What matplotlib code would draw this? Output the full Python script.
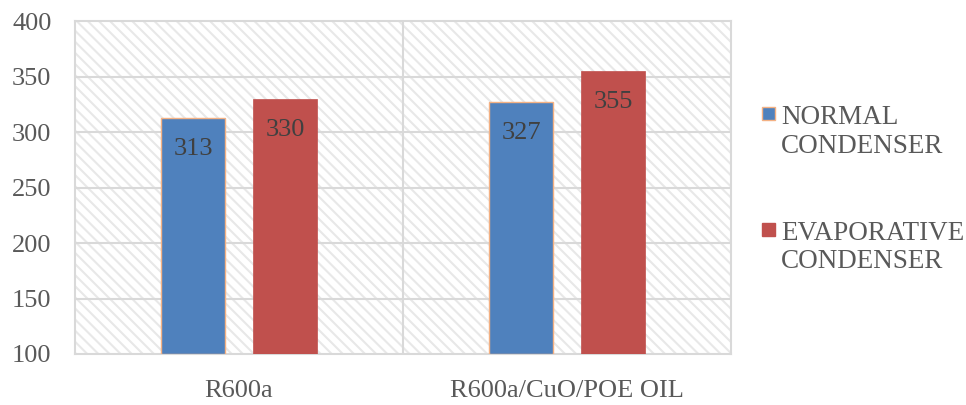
import numpy as np
import matplotlib
matplotlib.use('Agg')
import matplotlib.pyplot as plt

categories = ['R600a', 'R600a/CuO/POE OIL']
normal = [313, 327]
evaporative = [330, 355]
series_names = [['NORMAL', 'CONDENSER'], ['EVAPORATIVE', 'CONDENSER']]
yticks = [100, 150, 200, 250, 300, 350, 400]

plt.rcParams['font.family'] = ['Liberation Serif', 'DejaVu Serif']
plt.rcParams['hatch.linewidth'] = 1.5
plt.rcParams['hatch.color'] = '#e8e8e8'

blue = '#4f81bd'
red = '#c0504d'
text_col = '#595959'
grid_col = '#d9d9d9'
W, H = 966, 405

fig = plt.figure(figsize=(9.66, 4.05), dpi=100)
ax = fig.add_axes([75 / W, 1 - 354 / H, 656 / W, 333 / H])

# hatched background
ax.patch.set_facecolor('white')
ax.add_patch(plt.Rectangle((0, 0), 1, 1, transform=ax.transAxes, facecolor='white',
                           edgecolor='#e8e8e8', hatch='\\\\\\', lw=0, zorder=0))

x = np.arange(len(categories))
w = 0.195
off = 0.14
b1 = ax.bar(x - off, [v - 100 for v in normal], w, bottom=100, color=blue,
            edgecolor='#f4b183', linewidth=1, zorder=3)
b2 = ax.bar(x + off, [v - 100 for v in evaporative], w, bottom=100, color=red,
            edgecolor=red, linewidth=0.5, zorder=3)

for bars, vals in ((b1, normal), (b2, evaporative)):
    for b, v in zip(bars, vals):
        ax.text(b.get_x() + b.get_width() / 2, v - 33.5, str(v), ha='center', va='baseline',
                fontsize=19, color='#404040', zorder=4)

ax.set_xlim(-0.5, 1.5)
ax.set_ylim(100, 400)
ax.set_yticks(yticks)
ax.set_xticks(x)
ax.set_xticklabels(categories)
ax.tick_params(axis='both', length=0, labelsize=19, colors=text_col)
ax.tick_params(axis='x', pad=18.5)
ax.tick_params(axis='y', pad=17)

for y in yticks[1:-1]:
    ax.axhline(y, color=grid_col, lw=1.5, zorder=1)
ax.axvline(0.5, color=grid_col, lw=1.5, zorder=1)
for s in ax.spines.values():
    s.set_color(grid_col)
    s.set_linewidth(1.5)

# legend drawn by hand so the marker sits on the first text line
legend_items = [(blue, '#f4b183', 107, [124, 153]), (red, red, 223, [240, 268])]
for (fc, ec, ytop, baselines), lines in zip(legend_items, series_names):
    fig.patches.append(plt.Rectangle((762 / W, 1 - (ytop + 13) / H), 13 / W, 13 / H,
                                     transform=fig.transFigure, facecolor=fc,
                                     edgecolor=ec, lw=1))
    for yb, txt in zip(baselines, lines):
        fig.text(781 / W, 1 - yb / H, txt, fontsize=19.5, color=text_col,
                 ha='left', va='baseline')

fig.savefig('out.png', dpi=100)
